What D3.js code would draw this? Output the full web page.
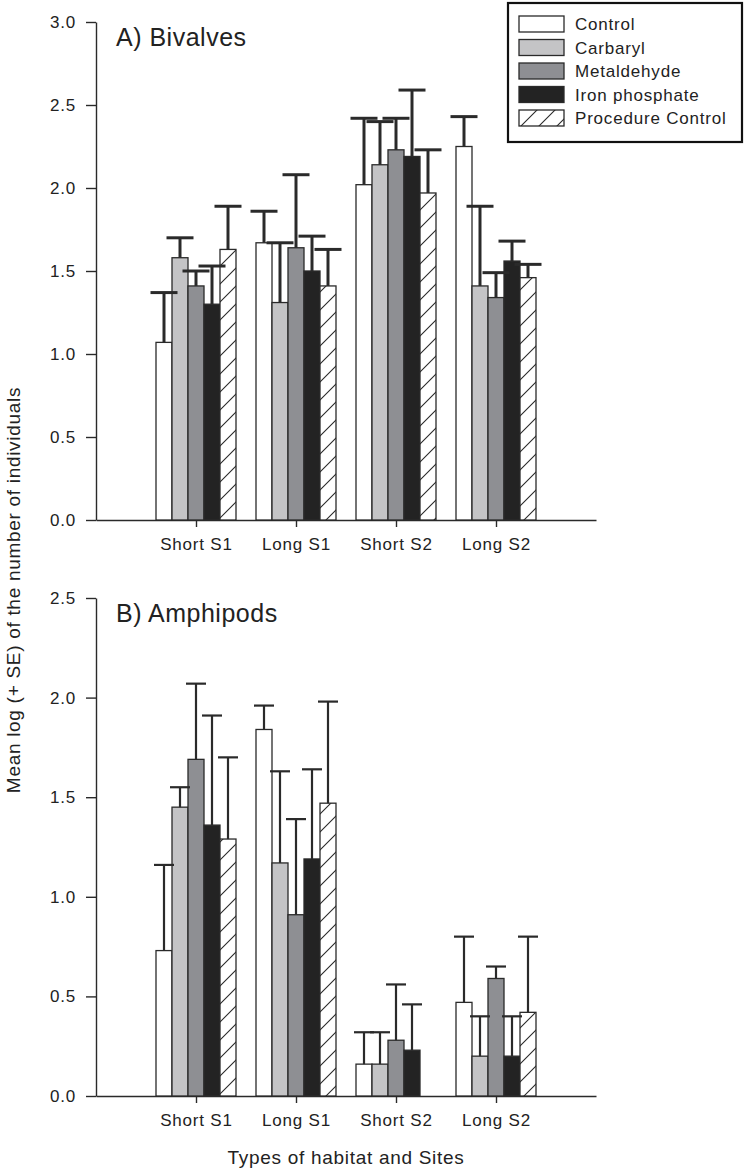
<!DOCTYPE html>
<html>
<head>
<meta charset="utf-8">
<script src="https://cdn.jsdelivr.net/npm/d3@7"></script>
<style>
  html, body { margin: 0; padding: 0; background: #fff; }
  svg { display: block; font-family: "Liberation Sans", Arial, sans-serif; }
</style>
</head>
<body>
<svg id="chart" width="744" height="1170"></svg>
<script>
const categories = ["Short S1", "Long S1", "Short S2", "Long S2"];
const treatments = ["Control", "Carbaryl", "Metaldehyde", "Iron phosphate", "Procedure Control"];
const fills = ["#ffffff", "#c4c4c6", "#8e8f93", "#232323", "url(#hatch)"];

// Panel A: Bivalves (rows = categories, cols = treatments)
const bivalvesMean = [
  [1.07, 1.58, 1.41, 1.30, 1.63],
  [1.67, 1.31, 1.64, 1.50, 1.41],
  [2.02, 2.14, 2.23, 2.19, 1.97],
  [2.25, 1.41, 1.34, 1.56, 1.46]
];
const bivalvesSE = [
  [0.30, 0.12, 0.09, 0.23, 0.26],
  [0.19, 0.36, 0.44, 0.21, 0.22],
  [0.40, 0.26, 0.19, 0.40, 0.26],
  [0.18, 0.48, 0.15, 0.12, 0.08]
];
const bivalvesTicks = [0, 0.5, 1.0, 1.5, 2.0, 2.5, 3.0];

// Panel B: Amphipods
const amphipodsMean = [
  [0.73, 1.45, 1.69, 1.36, 1.29],
  [1.84, 1.17, 0.91, 1.19, 1.47],
  [0.16, 0.16, 0.28, 0.23, null],
  [0.47, 0.20, 0.59, 0.20, 0.42]
];
const amphipodsSE = [
  [0.43, 0.10, 0.38, 0.55, 0.41],
  [0.12, 0.46, 0.48, 0.45, 0.51],
  [0.16, 0.16, 0.28, 0.23, null],
  [0.33, 0.20, 0.06, 0.20, 0.38]
];
const amphipodsTicks = [0, 0.5, 1.0, 1.5, 2.0, 2.5];

const svg = d3.select("#chart");
const ink = "#2a2a2a";
const txt = "#222";

// hatch pattern
const defs = svg.append("defs");
const pat = defs.append("pattern").attr("id", "hatch").attr("patternUnits", "userSpaceOnUse")
  .attr("width", 18).attr("height", 18);
pat.append("rect").attr("width", 18).attr("height", 18).attr("fill", "#fff");
pat.append("path").attr("d", "M-2,20 L20,-2 M-2,2 L2,-2 M16,20 L20,16").attr("stroke", ink).attr("stroke-width", 1.1);

const axisX0 = 96, axisX1 = 596;
const x = d3.scaleLinear().domain([0, categories.length + 1]).range([axisX0, axisX1]);
const inner = d3.scaleBand().domain(treatments).range([-40, 40]).paddingInner(0);

function styleTicks(sel) {
  sel.selectAll(".tick text").attr("font-size", 17).attr("letter-spacing", 0.8)
    .attr("fill", txt).attr("font-family", "Liberation Sans, Arial, sans-serif");
}

function panel(opts) {
  const { mean, se, ticks, yMax, top, bottom, title, errW, capW } = opts;
  const y = d3.scaleLinear().domain([0, yMax]).range([bottom, top]);
  const g = svg.append("g");

  // y axis
  const ya = d3.axisLeft(y).tickValues(ticks).tickFormat(d3.format(".1f")).tickSize(10).tickSizeOuter(0).tickPadding(10);
  const yg = g.append("g").attr("transform", `translate(${axisX0},0)`).call(ya);
  yg.select(".domain").attr("stroke", ink).attr("stroke-width", 1.4);
  yg.selectAll(".tick line").attr("stroke", ink).attr("stroke-width", 1.4);
  styleTicks(yg);

  // x axis
  const xa = d3.axisBottom(x).tickValues(d3.range(1, categories.length + 1))
    .tickFormat(i => categories[i - 1]).tickSize(7).tickSizeOuter(0).tickPadding(11);
  const xg = g.append("g").attr("transform", `translate(0,${bottom})`).call(xa);
  xg.select(".domain").attr("stroke", ink).attr("stroke-width", 1.4);
  xg.selectAll(".tick line").attr("stroke", ink).attr("stroke-width", 1.4);
  styleTicks(xg);

  // bars
  const data = [];
  mean.forEach((row, ci) => row.forEach((v, ti) => {
    if (v !== null) data.push({ ci, ti, v, se: se[ci][ti] });
  }));
  const bx = d => x(d.ci + 1) + inner(treatments[d.ti]);
  const bw = inner.bandwidth();

  g.selectAll("rect.bar").data(data).join("rect").attr("class", "bar")
    .attr("x", bx).attr("width", bw)
    .attr("y", d => y(d.v)).attr("height", d => y(0) - y(d.v))
    .attr("fill", d => fills[d.ti]).attr("stroke", ink).attr("stroke-width", 1.3);

  // error bars
  const eb = g.selectAll("g.err").data(data).join("g").attr("class", "err");
  eb.append("line").attr("x1", d => bx(d) + bw / 2).attr("x2", d => bx(d) + bw / 2)
    .attr("y1", d => y(d.v)).attr("y2", d => y(d.v + d.se))
    .attr("stroke", ink).attr("stroke-width", errW);
  eb.append("line").attr("x1", d => bx(d) + bw / 2 - capW / 2).attr("x2", d => bx(d) + bw / 2 + capW / 2)
    .attr("y1", d => y(d.v + d.se)).attr("y2", d => y(d.v + d.se))
    .attr("stroke", ink).attr("stroke-width", errW);

  g.append("text").attr("x", 116).attr("y", top + 24).attr("font-size", 25).attr("letter-spacing", 0.5)
    .attr("fill", txt).text(title);
}

panel({ mean: bivalvesMean, se: bivalvesSE, ticks: bivalvesTicks, yMax: 3.0, top: 22, bottom: 520,
  title: "A) Bivalves", errW: 3, capW: 27 });
panel({ mean: amphipodsMean, se: amphipodsSE, ticks: amphipodsTicks, yMax: 2.5, top: 598, bottom: 1096,
  title: "B) Amphipods", errW: 2.2, capW: 20 });

// axis titles
svg.append("text").attr("transform", "translate(20,590) rotate(-90)").attr("text-anchor", "middle")
  .attr("font-size", 19).attr("letter-spacing", 0.7).attr("fill", txt)
  .text("Mean log (+ SE) of the number of individuals");
svg.append("text").attr("x", 346).attr("y", 1164).attr("text-anchor", "middle")
  .attr("font-size", 19).attr("letter-spacing", 0.7).attr("fill", txt).text("Types of habitat and Sites");

// legend
const lg = svg.append("g");
lg.append("rect").attr("x", 508).attr("y", 3).attr("width", 234).attr("height", 139)
  .attr("fill", "#fff").attr("stroke", "#111").attr("stroke-width", 2.2);
const ly = d3.scalePoint().domain(treatments).range([16, 110]);
const items = lg.selectAll("g.item").data(treatments).join("g").attr("class", "item")
  .attr("transform", d => `translate(519,${ly(d)})`);
items.append("rect").attr("width", 45).attr("height", 16)
  .attr("fill", (d, i) => fills[i]).attr("stroke", ink).attr("stroke-width", 1.3);
items.append("text").attr("x", 56).attr("y", 14).attr("font-size", 17).attr("letter-spacing", 0.8)
  .attr("fill", txt).text(d => d);
</script>
</body>
</html>
